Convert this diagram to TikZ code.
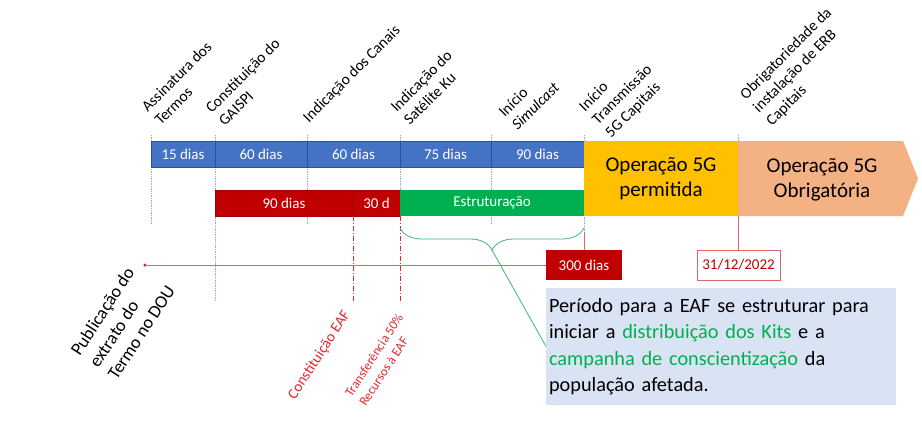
\documentclass[tikz,border=0pt]{standalone}
\usepackage{fontspec}
\setmainfont{Carlito}
\usetikzlibrary{positioning,decorations.pathreplacing}
\definecolor{segblue}{HTML}{4472C4}
\definecolor{segedge}{HTML}{2F528F}
\definecolor{eafred}{HTML}{C00000}
\definecolor{estgreen}{HTML}{00B050}
\definecolor{opyellow}{HTML}{FFC000}
\definecolor{opsalmon}{HTML}{F4B183}
\definecolor{notefill}{HTML}{DAE3F3}
\definecolor{tickblue}{HTML}{8FAADC}
\definecolor{linered}{HTML}{E06666}
\definecolor{marked}{HTML}{E0282E}
\definecolor{bracegreen}{HTML}{3CB878}

\begin{document}
\begin{tikzpicture}[x=1pt,y=-1pt,
  every node/.style={inner sep=0pt,outer sep=0pt,font=\fontsize{15}{18}\selectfont},
  seg/.style={draw=segedge,line width=0.5pt,fill=segblue,text=white,minimum height=26pt,anchor=north west},
  eaf/.style={draw=eafred!85!black,line width=0.4pt,fill=eafred,text=white,minimum height=26pt,anchor=north west},
  toplbl/.style={rotate=45,anchor=south west,align=left,font=\fontsize{15.5}{18.5}\selectfont},
  lowlbl/.style={rotate=57,anchor=south west,align=left},
  tick/.style={draw=tickblue,densely dotted,line width=0.7pt},
  redtick/.style={draw=marked,line width=0.7pt,dash pattern=on 5pt off 2pt on 1pt off 2pt},
  redln/.style={draw=linered,line width=0.8pt}]
\useasboundingbox (0,0) rectangle (922,423);

% guide lines behind the bars
\foreach \x/\yb in {151/225,215/300,307/225,400/190,491/225,584/232,738/141}
  \draw[tick] (\x,135) -- (\x,\yb);

% upper bar
\node[seg,minimum width=64pt] (s1) at (151,141) {15 dias};
\node[seg,minimum width=92pt,right=0pt of s1] (s2) {60 dias};
\node[seg,minimum width=93pt,right=0pt of s2] (s3) {60 dias};
\node[seg,minimum width=91pt,right=0pt of s3] (s4) {75 dias};
\node[seg,minimum width=93pt,right=0pt of s4] (s5) {90 dias};

% lower bar
\node[eaf,minimum width=138pt] (r1) at (215,190) {90 dias};
\node[eaf,minimum width=47pt,right=0pt of r1] (r2) {30 d};
\node[fill=estgreen,text=white,minimum width=184pt,minimum height=26pt,right=0pt of r2] (est) {Estruturação};

% operation phases
\node[fill=opyellow,minimum width=154pt,minimum height=75pt,anchor=north west,align=center,
      font=\fontsize{21}{25}\selectfont] (perm) at (584,141) {Operação 5G\\permitida};
\fill[opsalmon] (738,141) -- (903,141) -- (918,178.5) -- (903,216) -- (738,216) -- cycle;
\node[align=center,font=\fontsize{21}{25}\selectfont] (obr) at (822,180) {Operação 5G\\Obrigatória};

% milestones above
\node[toplbl] (ass) at (161,126) {Assinatura dos\\Termos};
\node[toplbl] (gai) at (225,127) {Constituição do\\GAISPI};
\node[toplbl] (can) at (311,125) {Indicação dos Canais};
\node[toplbl] (sat) at (410,126) {Indicação do\\Satélite Ku};
\node[toplbl] (sim) at (518,131) {Início\\\textit{Simulcast}};
\node[toplbl] (tra) at (613,140) {Início\\Transmissão\\5G Capitais};
\node[toplbl] (erb) at (774,128) {Obrigatoriedade da\\instalação de ERB\\Capitais};

% EAF milestones
\coordinate (e1) at (353,303);
\coordinate (e2) at (400,303);
\draw[redtick] (r1.south east) -- (e1);
\draw[redtick] (r2.south east) -- (e2);
\node[lowlbl,anchor=base west,text=marked] (ceaf) at (295,400) {Constituição EAF};
\node[lowlbl,text=marked,font=\fontsize{13}{17}\selectfont] (trf) at (366,407) {Transferência 50\%\\Recursos à EAF};

% deadlines
\node[fill=eafred,text=white,minimum width=76pt,minimum height=30pt,anchor=north west] (d300) at (546,250) {300 dias};
\node[draw=linered,line width=0.8pt,fill=white,text=eafred,minimum width=83pt,minimum height=30pt,anchor=north west] (dt) at (697,250) {31/12/2022};
\node[circle,fill=marked,minimum size=3.5pt] (dou) at (145,265) {};
\draw[redln] (dou) -- (d300);
\coordinate (b584) at (584,232);
\draw[redln] (b584) -- (d300.north);
\draw[redln] (perm.south east) -- (perm.south east |- dt.north);
\node[lowlbl,font=\fontsize{18}{22}\selectfont] (pub) at (117,381) {Publicação do\\extrato do\\Termo no DOU};

% structuring period
\draw[bracegreen,line width=0.8pt,decorate,decoration={brace,amplitude=22pt,mirror}] (400,228) -- (584,228);
\coordinate (bt) at (492,250);
\node[fill=notefill,anchor=north west,minimum width=350pt,minimum height=117pt,text width=344pt,inner xsep=3pt,
      align=left,font=\fontsize{20.3}{26.5}\selectfont] (co) at (546,288)
  {Período para a EAF se estruturar para\\iniciar a \textcolor{estgreen}{distribuição dos Kits} e a\\
   \textcolor{estgreen}{campanha de conscientização} da\\população afetada.};
\draw[bracegreen,line width=0.8pt] (bt) -- (co.west);
\end{tikzpicture}
\end{document}
